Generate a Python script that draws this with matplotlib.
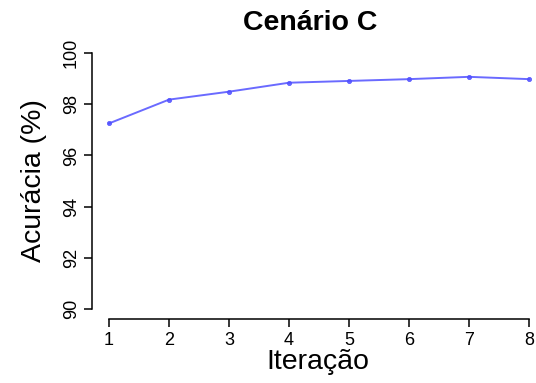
import numpy as np
import matplotlib.pyplot as plt

plt.rcParams['font.family'] = ['Liberation Sans', 'DejaVu Sans']

# data
iteracao = [1, 2, 3, 4, 5, 6, 7, 8]
acuracia = [97.25, 98.18, 98.49, 98.84, 98.91, 98.98, 99.07, 98.98]
yticks = [90, 92, 94, 96, 98, 100]

W, H = 536, 383
fig = plt.figure(figsize=(W / 100, H / 100), dpi=100)

# axes box in pixels (R-style plot region, right side cropped)
left, right, top, bottom = 92.2, 536, 42.8, 319.2
ax = fig.add_axes([left / W, 1 - bottom / H, (right - left) / W, (bottom - top) / H])

ax.plot(iteracao, acuracia, color='#5050ff', linewidth=1.4,
        marker='o', markersize=3, markeredgewidth=0.6, alpha=0.85)

ax.set_xlim(0.72, 1 + (right - 109) / 60)
ax.set_ylim(89.6, 100.4)

ax.spines['top'].set_visible(False)
ax.spines['right'].set_visible(False)
ax.spines['left'].set_bounds(90, 100)
ax.spines['bottom'].set_bounds(1, 8)
for s in ('left', 'bottom'):
    ax.spines[s].set_linewidth(1.1)

ax.set_xticks(iteracao)
ax.set_yticks(yticks)
ax.tick_params(direction='out', length=6, width=1.1, labelsize=13, pad=3)
for lab in ax.get_yticklabels():
    lab.set_rotation(90)
    lab.set_va('center')

fig.text(310 / W, 1 - 23 / H, 'Cenário C', ha='center', va='center',
         fontsize=20.5, fontweight='bold')
fig.text(318 / W, 1 - 362 / H, 'Iteração', ha='center', va='center', fontsize=20.5)
fig.text(34 / W, 1 - 180.5 / H, 'Acurácia (%)', ha='center', va='center',
         fontsize=20.5, rotation=90)

fig.savefig('out.png', dpi=100)
